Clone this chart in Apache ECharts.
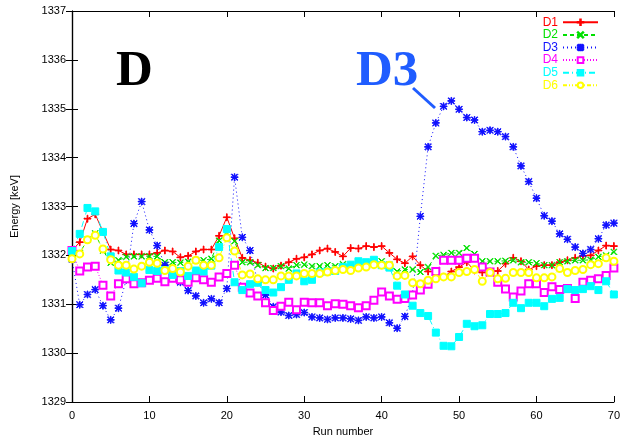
<!DOCTYPE html>
<html>
<head>
<meta charset="utf-8">
<script src="https://cdn.jsdelivr.net/npm/echarts@6/dist/echarts.min.js"></script>
<style>
  html, body { margin: 0; padding: 0; background: #fff; }
  #chart { width: 623px; height: 443px; }
</style>
</head>
<body>
<div id="chart"></div>
<script>
// energy per run (keV), runs 0..70
const d1 = [1332.1, 1332.27, 1332.75, 1332.84, 1332.48, 1332.12, 1332.1, 1332.02, 1332.02, 1332.02,
  1332.02, 1332.05, 1332.1, 1332.08, 1331.96, 1331.99, 1332.08, 1332.12, 1332.12, 1332.4,
  1332.78, 1332.35, 1331.95, 1331.9, 1331.85, 1331.77, 1331.73, 1331.79, 1331.86, 1331.93,
  1331.96, 1332.02, 1332.1, 1332.14, 1332.07, 1331.98, 1332.15, 1332.14, 1332.19, 1332.17,
  1332.19, 1332.05, 1331.92, 1331.84, 1331.98, 1331.8, 1331.67, 1331.67, 1331.56, 1331.67,
  1331.76, 1331.86, 1331.69, 1331.65, 1331.67, 1331.68, 1331.83, 1331.95, 1331.88, 1331.71,
  1331.78, 1331.8, 1331.8, 1331.86, 1331.9, 1331.95, 1331.99, 1332.0, 1332.1, 1332.2, 1332.19];

const d2 = [1331.93, 1332.05, 1332.32, 1332.45, 1332.1, 1331.85, 1331.9, 1331.97, 1331.98, 1331.98,
  1331.98, 1331.98, 1331.86, 1331.86, 1331.85, 1331.87, 1331.9, 1331.9, 1331.93, 1332.3,
  1332.46, 1332.29, 1331.86, 1331.86, 1331.8, 1331.74, 1331.74, 1331.78, 1331.73, 1331.8,
  1331.81, 1331.78, 1331.78, 1331.8, 1331.78, 1331.82, 1331.76, 1331.8, 1331.82, 1331.83,
  1331.88, 1331.81, 1331.67, 1331.71, 1331.71, 1331.66, 1331.76, 1331.99, 1332.01, 1332.05,
  1332.05, 1332.15, 1332.03, 1331.88, 1331.88, 1331.88, 1331.89, 1331.9, 1331.86, 1331.86,
  1331.84, 1331.8, 1331.8, 1331.86, 1331.88, 1331.9, 1331.9, 1331.91, 1331.97, 1332.0, 1332.07];

const d3 = [1331.92, 1330.99, 1331.2, 1331.3, 1330.97, 1330.68, 1330.92, 1331.5, 1332.65, 1333.1,
  1332.52, 1332.2, 1331.8, 1331.55, 1331.45, 1331.28, 1331.17, 1331.03, 1331.11, 1331.03,
  1331.32, 1333.6, 1332.37, 1332.1, 1331.45, 1331.19, 1330.95, 1330.84, 1330.77, 1330.79,
  1330.83, 1330.74, 1330.72, 1330.69, 1330.72, 1330.72, 1330.7, 1330.67, 1330.74, 1330.72,
  1330.74, 1330.62, 1330.51, 1330.75, 1331.2, 1332.8, 1334.22, 1334.71, 1335.05, 1335.16,
  1334.99, 1334.82, 1334.77, 1334.53, 1334.56, 1334.53, 1334.43, 1334.22, 1333.83, 1333.51,
  1333.17, 1332.81, 1332.7, 1332.44, 1332.33, 1332.17, 1332.04, 1332.12, 1332.34, 1332.62, 1332.66];

const d4 = [1332.1, 1331.68, 1331.76, 1331.78, 1331.39, 1331.17, 1331.42, 1331.52, 1331.42, 1331.44,
  1331.49, 1331.53, 1331.46, 1331.53, 1331.5, 1331.45, 1331.54, 1331.5, 1331.45, 1331.56,
  1331.63, 1331.8, 1331.35, 1331.23, 1331.17, 1331.03, 1330.87, 1330.96, 1331.04, 1330.89,
  1331.04, 1331.03, 1331.03, 1330.97, 1331.01, 1331.0, 1330.97, 1330.93, 1330.97, 1331.08,
  1331.25, 1331.17, 1331.1, 1331.12, 1331.19, 1331.29, 1331.41, 1331.67, 1331.9, 1331.9,
  1331.9, 1331.94, 1331.94, 1331.76, 1331.66, 1331.45, 1331.31, 1331.15, 1331.27, 1331.42,
  1331.42, 1331.24, 1331.36, 1331.3, 1331.32, 1331.12, 1331.45, 1331.49, 1331.52, 1331.59, 1331.74];

const d5 = [1332.09, 1332.44, 1332.97, 1332.9, 1332.48, 1331.98, 1331.69, 1331.65, 1331.56, 1331.43,
  1331.7, 1331.68, 1331.7, 1331.6, 1331.68, 1331.58, 1331.69, 1331.67, 1331.79, 1332.17,
  1332.54, 1331.45, 1331.29, 1331.41, 1331.44, 1331.29, 1331.24, 1331.35, 1331.5, 1331.63,
  1331.47, 1331.5, 1331.65, 1331.67, 1331.68, 1331.76, 1331.81, 1331.88, 1331.86, 1331.91,
  1331.8, 1331.75, 1331.38, 1331.2, 1330.97, 1330.82, 1330.76, 1330.42, 1330.15, 1330.14,
  1330.33, 1330.6, 1330.55, 1330.57, 1330.8, 1330.8, 1330.82, 1331.03, 1330.92, 1331.03,
  1331.03, 1330.96, 1331.11, 1331.13, 1331.31, 1331.29, 1331.31, 1331.37, 1331.29, 1331.47, 1331.2];

const d6 = [1331.93, 1332.03, 1332.32, 1332.41, 1332.13, 1331.91, 1331.8, 1331.8, 1331.72, 1331.78,
  1331.86, 1331.84, 1331.69, 1331.73, 1331.66, 1331.78, 1331.9, 1331.8, 1331.8, 1331.95,
  1332.36, 1332.09, 1331.6, 1331.62, 1331.52, 1331.5, 1331.5, 1331.58, 1331.58, 1331.58,
  1331.63, 1331.63, 1331.63, 1331.66, 1331.69, 1331.71, 1331.69, 1331.74, 1331.76, 1331.81,
  1331.8, 1331.8, 1331.58, 1331.59, 1331.44, 1331.42, 1331.49, 1331.52, 1331.56, 1331.56,
  1331.65, 1331.67, 1331.71, 1331.47, 1331.65, 1331.52, 1331.53, 1331.65, 1331.65, 1331.65,
  1331.54, 1331.54, 1331.56, 1331.73, 1331.65, 1331.69, 1331.71, 1331.81, 1331.83, 1331.95, 1331.88];

const seriesNames = ['D1', 'D2', 'D3', 'D4', 'D5', 'D6'];
const seriesValues = [d1, d2, d3, d4, d5, d6];

// gnuplot-like point types
const PLUS = 'path://M4.5,0h1v10h-1z M0,4.5h10v1h-10z';
const CROSS = 'path://M0.7,0 L5,4.3 L9.3,0 L10,0.7 L5.7,5 L10,9.3 L9.3,10 L5,5.7 L0.7,10 L0,9.3 L4.3,5 L0,0.7 Z';
const STAR = 'path://M4.5,0h1v10h-1z M0,4.5h10v1h-10z M1,0.3 L5,4.3 L9,0.3 L9.7,1 L5.7,5 L9.7,9 L9,9.7 L5,5.7 L1,9.7 L0.3,9 L4.3,5 L0.3,1 Z';

const styles = [
  { color: '#ff0000', symbol: PLUS, size: 7, dash: 'solid' },
  { color: '#00e000', symbol: CROSS, size: 6, dash: [4, 3] },
  { color: '#1010ff', symbol: STAR, size: 7, dash: [1, 3] },
  { color: '#ff00ff', symbol: 'emptyRect', size: 7, dash: [1, 2] },
  { color: '#00ffff', symbol: 'rect', size: 7, dash: [6, 3, 1, 3] },
  { color: '#ffff00', symbol: 'emptyCircle', size: 7, dash: [4, 2, 1, 2, 1, 2] }
];

const chart = echarts.init(document.getElementById('chart'), null, { renderer: 'canvas' });

const labelFont = { color: '#000', fontSize: 11, fontFamily: 'Liberation Sans, Arial, sans-serif' };
const frameLine = { show: true, lineStyle: { color: '#000', width: 1.2 } };
const inTick = { show: true, inside: true, length: 6, lineStyle: { color: '#000', width: 1 } };

const option = {
  animation: false,
  backgroundColor: '#fff',
  grid: { left: 72, right: 7, top: 11, bottom: 41, containLabel: false },
  legend: {
    orient: 'vertical',
    right: 24,
    top: 16,
    align: 'right',
    itemWidth: 35,
    itemHeight: 7,
    itemGap: 0,
    padding: 0,
    textStyle: { fontSize: 12, lineHeight: 12.6, padding: [0, 0, 0, 0], fontFamily: 'Liberation Sans, Arial, sans-serif' },
    data: seriesNames.map((n, i) => ({ name: n, textStyle: { color: styles[i].color } }))
  },
  xAxis: [
    {
      type: 'value', min: 0, max: 70, interval: 10, position: 'bottom',
      axisLine: frameLine, axisTick: inTick, splitLine: { show: false },
      axisLabel: Object.assign({ margin: 8 }, labelFont),
      name: 'Run number', nameLocation: 'middle', nameGap: 24,
      nameTextStyle: labelFont
    },
    {
      type: 'value', min: 0, max: 70, interval: 10, position: 'top',
      axisLine: frameLine, axisTick: inTick, splitLine: { show: false },
      axisLabel: { show: false }
    }
  ],
  yAxis: [
    {
      type: 'value', min: 1329, max: 1337, interval: 1, position: 'left',
      axisLine: frameLine, axisTick: inTick, splitLine: { show: false },
      axisLabel: Object.assign({ margin: 6, formatter: (v) => String(v) }, labelFont),
      name: 'Energy [keV]', nameLocation: 'middle', nameGap: 52,
      nameTextStyle: labelFont
    },
    {
      type: 'value', min: 1329, max: 1337, interval: 1, position: 'right',
      axisLine: frameLine, axisTick: inTick, splitLine: { show: false },
      axisLabel: { show: false }
    }
  ],
  series: seriesValues.map((vals, i) => ({
    name: seriesNames[i],
    type: 'line',
    xAxisIndex: 0,
    yAxisIndex: 0,
    data: vals.map((v, run) => [run, v]),
    symbol: styles[i].symbol,
    symbolSize: styles[i].size,
    showAllSymbol: true,
    lineStyle: { color: styles[i].color, width: 1, type: styles[i].dash },
    itemStyle: { color: styles[i].color, borderColor: styles[i].color, borderWidth: 1 },
    emphasis: { disabled: true }
  })),
  graphic: [
    {
      type: 'text', x: 116, y: 72,
      style: { text: 'D', font: 'bold 51px "Liberation Serif", "DejaVu Serif", serif', fill: '#000', verticalAlign: 'middle' }
    },
    {
      type: 'text', x: 356, y: 72,
      style: { text: 'D3', font: 'bold 51px "Liberation Serif", "DejaVu Serif", serif', fill: '#1f5cff', verticalAlign: 'middle' }
    },
    {
      type: 'line',
      shape: { x1: 413, y1: 88, x2: 435, y2: 108 },
      style: { stroke: '#1f5cff', lineWidth: 3 }
    }
  ]
};

chart.setOption(option);
</script>
</body>
</html>
